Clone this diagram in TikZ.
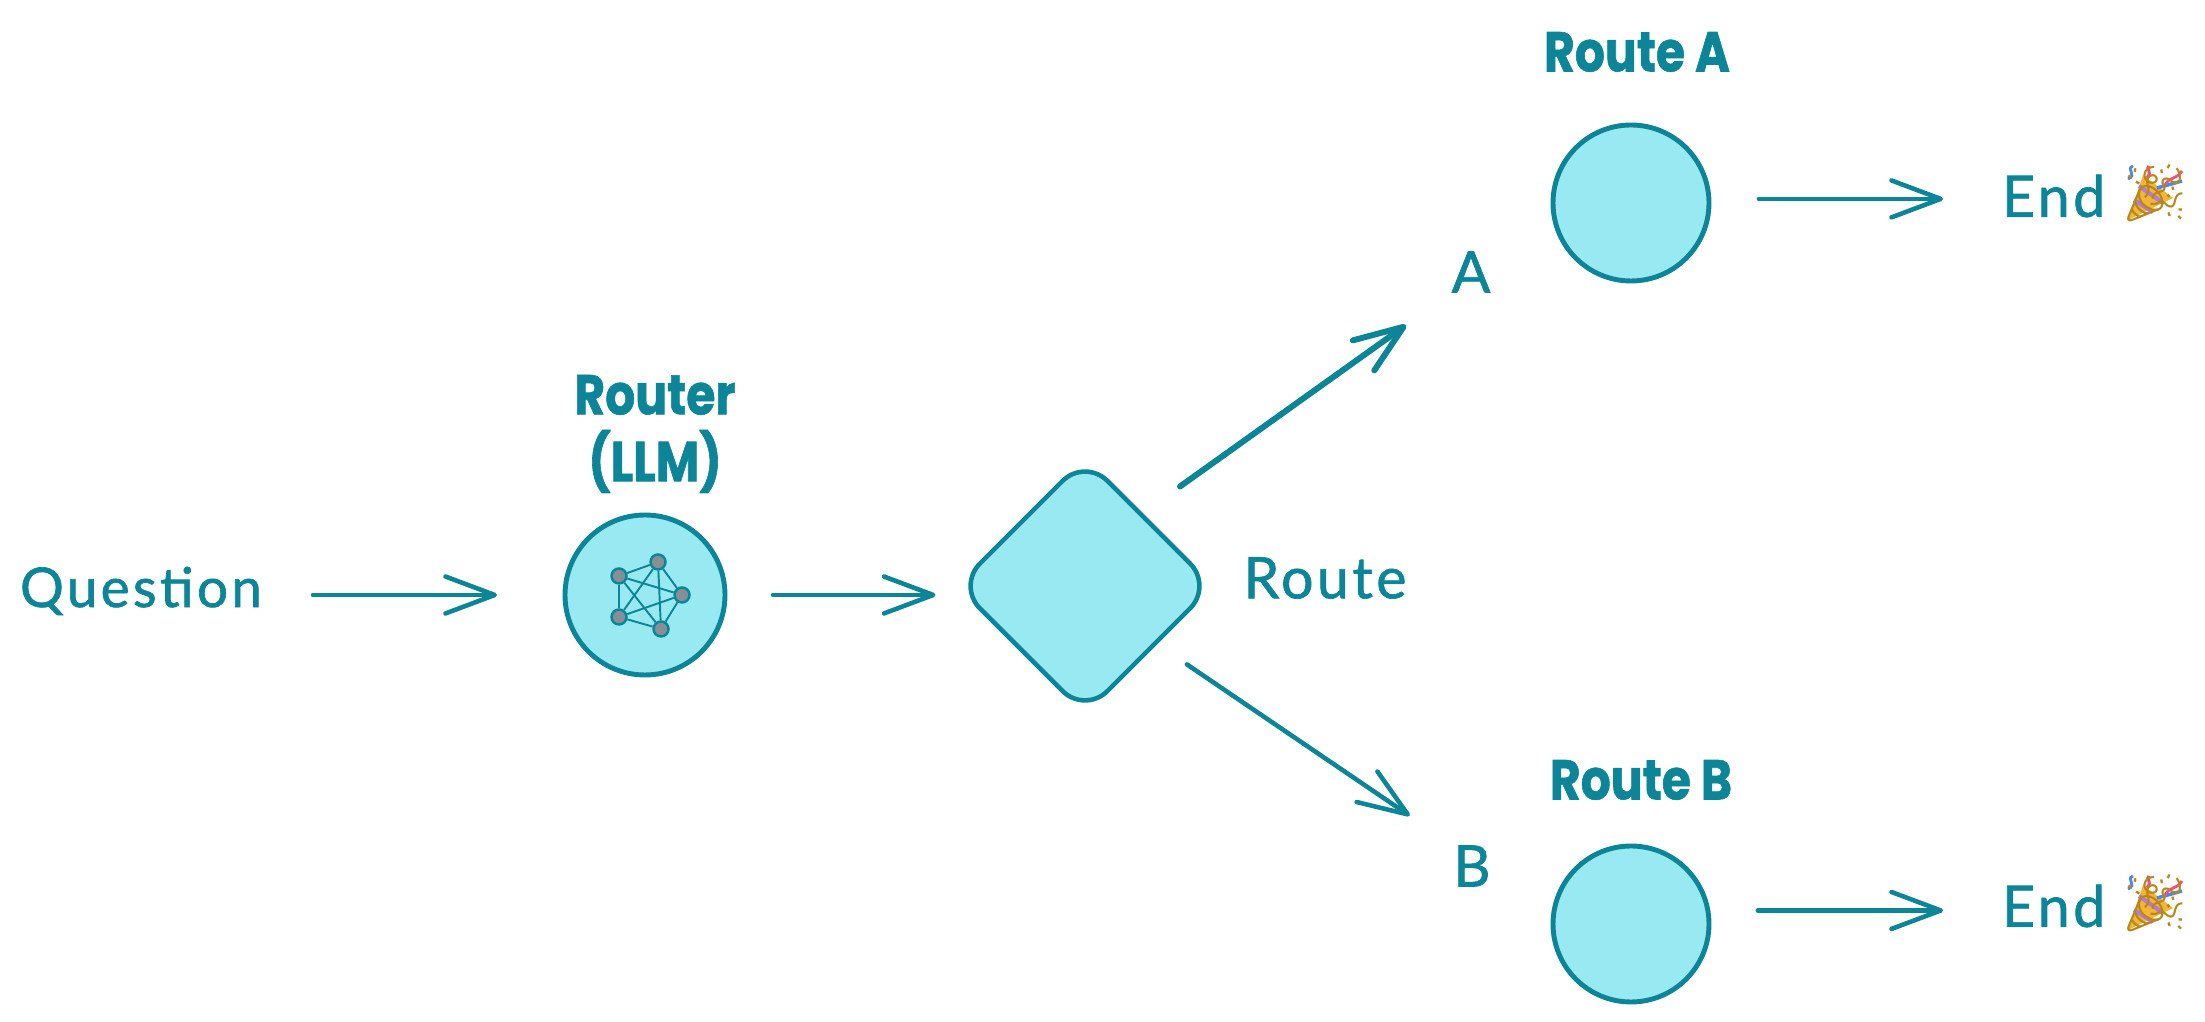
\documentclass[tikz,border=0pt]{standalone}
\usepackage{xcolor}
\usepackage{fontspec}
\setmainfont{Lato}
\newfontfamily\handfont[LetterSpace=6,FakeBold=1.2]{Lato}
\newfontfamily\titlefont[FakeStretch=0.84,FakeBold=1]{Poppins}
\newfontfamily\emojifont{Noto Emoji}
\usepackage{tikz}
\usetikzlibrary{shapes.geometric,arrows.meta,positioning}
\definecolor{tealline}{HTML}{0C8599}
\definecolor{cyanfill}{HTML}{99E9F2}
\definecolor{netgrey}{HTML}{868E96}
\definecolor{popgold}{HTML}{F2B632}
\definecolor{popedge}{HTML}{B9861C}
\definecolor{poppurple}{HTML}{B07CD8}
\definecolor{popblue}{HTML}{4C86F0}
\definecolor{poppink}{HTML}{F0507A}

\begin{document}
\begin{tikzpicture}[
  stepnode/.style={circle, draw=tealline, fill=cyanfill, line width=1.4pt, minimum size=1.56cm, inner sep=0pt, outer sep=0pt},
  choice/.style={diamond, draw=tealline, fill=cyanfill, line width=1.3pt, rounded corners=9pt, minimum width=2.55cm, minimum height=2.55cm, inner sep=0pt, outer sep=0pt},
  lbl/.style={font=\handfont\fontsize{16.3}{20}\selectfont, text=tealline, inner sep=0pt, outer sep=0pt},
  ttl/.style={font=\titlefont\bfseries\fontsize{16}{19}\selectfont, text=tealline, align=center, inner sep=0pt},
  emo/.style={font=\emojifont\fontsize{16}{16}\selectfont, text=popedge, inner sep=0pt},
  arr/.style={draw=tealline, line width=1.3pt, line cap=round, -{Straight Barb[length=14pt,width=10.5pt,round]}},
  netdot/.style={circle, draw=tealline, fill=netgrey, line width=0.7pt, minimum size=0.15cm, inner sep=0pt}
]
\useasboundingbox (0,0) rectangle (22.05,10.22);

% Text on the left
\node[lbl, font=\handfont\fontsize{15.6}{20}\selectfont] (question) at (1.41,4.31) {Question};

% Router
\node[stepnode, minimum size=1.6cm] (router) at (6.45,4.27) {};
\node[ttl] (routerttl) at (6.55,5.88) {Router\\(LLM)};
\node[netdot] (n1) at (6.58,4.60) {};
\node[netdot] (n2) at (6.19,4.46) {};
\node[netdot] (n3) at (6.82,4.27) {};
\node[netdot] (n4) at (6.19,4.05) {};
\node[netdot] (n5) at (6.61,3.93) {};
\foreach \a/\b in {n1/n2,n1/n3,n1/n4,n1/n5,n2/n3,n2/n4,n2/n5,n3/n4,n3/n5,n4/n5}
  \draw[tealline, line width=0.55pt] (\a) -- (\b);

% Decision
\node[choice] (decision) at (10.85,4.36) {};
\node[lbl] (route) at (13.25,4.44) {Route};
\node[lbl] (labela) at (14.71,7.50) {A};
\node[lbl] (labelb) at (14.72,1.56) {B};

% Routes
\node[stepnode] (routea) at (16.31,8.19) {};
\node[stepnode] (routeb) at (16.31,0.98) {};
\node[ttl] (routeattl) at (16.37,9.70) {Route A};
\node[ttl] (routebttl) at (16.41,2.42) {Route B};

% Ends
\node[lbl, anchor=west] (enda) at (20.02,8.26) {End};
\node[lbl, anchor=west] (endb) at (20.02,1.16) {End};

% Party poppers
\foreach \x/\y/\p in {21.55/8.29/poppera,21.55/1.19/popperb} {
  \begin{scope}[shift={(\x,\y)}]
    \fill[popgold] (-0.27,-0.27) -- (-0.12,0.18) -- (0.18,-0.05) -- cycle;
    \draw[poppurple, line width=1.2pt] (-0.21,-0.07) -- (-0.02,-0.19);
    \draw[poppurple, line width=1.2pt] (-0.16,0.07) -- (0.08,-0.10);
    \draw[popblue, line width=1pt] (0.02,0.05) -- (0.27,0.12);
    \draw[poppink, line width=0.9pt] (-0.08,0.15) .. controls (-0.02,0.22) and (-0.10,0.24) .. (-0.06,0.27);
    \draw[popblue, line width=0.8pt] (-0.27,0.14) .. controls (-0.17,0.18) and (-0.30,0.24) .. (-0.22,0.27);
    \draw[poppink, line width=0.8pt] (0.10,0.08) .. controls (0.16,0.18) and (0.20,0.12) .. (0.27,0.22);
  \end{scope}
  \node[emo] (\p) at (\x,\y) {🎉};
}

% Arrows
\draw[arr, shorten <=0.51cm, shorten >=0.68cm] (question.east |- router.west) -- (router.west);
\draw[arr, shorten <=0.48cm, shorten >=0.22cm] (router.east) -- (router.east -| decision.west);
\draw[arr, line width=1.7pt, shorten <=0.48cm, shorten >=0.56cm] (decision.52) -- (labela.south west);
\draw[arr, shorten <=0.38cm, shorten >=0.53cm] (decision.-39) -- (labelb.north west);
\draw[arr, shorten <=0.5cm, shorten >=0.59cm] (routea.3) -- (routea.3 -| enda.west);
\draw[arr, shorten <=0.5cm, shorten >=0.59cm] (routeb.10) -- (routeb.10 -| endb.west);

\end{tikzpicture}
\end{document}
